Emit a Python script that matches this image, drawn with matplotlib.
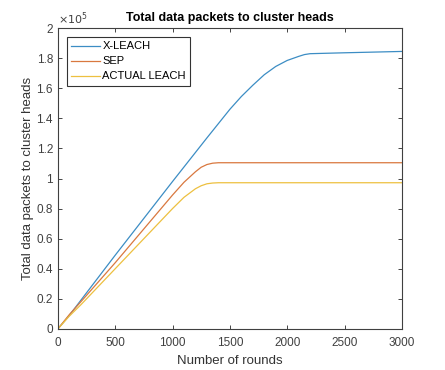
import matplotlib
matplotlib.use("Agg")
import matplotlib.pyplot as plt
import numpy as np

plt.rcParams["font.family"] = ["Liberation Sans", "DejaVu Sans"]

rounds = [0, 100, 200, 500, 1000, 1300, 1500, 1600, 1700, 1800, 1900, 2000, 2100, 2150, 2200, 2500, 3000]
x_leach = [0, 0.09, 0.19, 0.49, 0.98, 1.27, 1.46, 1.545, 1.62, 1.69, 1.745, 1.785, 1.812, 1.824, 1.830, 1.836, 1.845]

rounds_sep = [0, 100, 200, 500, 1000, 1100, 1200, 1250, 1300, 1350, 1400, 3000]
sep = [0, 0.095, 0.18, 0.44, 0.89, 0.975, 1.045, 1.075, 1.093, 1.102, 1.105, 1.105]

rounds_leach = [0, 100, 200, 500, 1000, 1100, 1200, 1250, 1300, 1350, 1400, 3000]
actual_leach = [0, 0.085, 0.16, 0.40, 0.80, 0.875, 0.932, 0.952, 0.965, 0.970, 0.972, 0.972]

scale = 1e5

fig = plt.figure(figsize=(4.45, 3.7), dpi=100)
ax = fig.add_axes([0.130, 0.111, 0.773, 0.813])

ax.plot(rounds, np.array(x_leach) * scale, color="#3C8DC4", lw=0.9, label="X-LEACH")
ax.plot(rounds_sep, np.array(sep) * scale, color="#D9783F", lw=0.9, label="SEP")
ax.plot(rounds_leach, np.array(actual_leach) * scale, color="#EDC040", lw=0.9, label="ACTUAL LEACH")

ax.set_xlim(0, 3000)
ax.set_ylim(0, 2e5)
ax.set_xticks(np.arange(0, 3001, 500))
ax.set_yticks(np.arange(0, 2.01e5, 0.2e5))
ax.set_yticklabels(["0", "0.2", "0.4", "0.6", "0.8", "1", "1.2", "1.4", "1.6", "1.8", "2"])
ax.tick_params(direction="in", top=True, right=True, labelsize=8.5, colors="#262626",
               length=3, width=0.6, labelcolor="#404040")
ax.tick_params(axis="x", pad=6)
for s in ax.spines.values():
    s.set_color("#404040")
    s.set_linewidth(0.8)

ax.text(0.0, 1.005, r"$\times10^5$", transform=ax.transAxes, fontsize=8, color="#404040",
        ha="left", va="bottom")
ax.set_title("Total data packets to cluster heads", fontsize=9, fontweight="bold", pad=5)
ax.set_xlabel("Number of rounds", fontsize=9.5, color="#333333", labelpad=4)
ax.set_ylabel("Total data packets to cluster heads", fontsize=9.5, color="#333333", labelpad=2)

leg = ax.legend(loc="upper left", fontsize=8, frameon=True, fancybox=False,
                edgecolor="black", borderaxespad=0.8, handlelength=2.6, handletextpad=0.2,
                borderpad=0.4, labelspacing=0.45)
leg.get_frame().set_linewidth(0.8)

fig.savefig("out.png", dpi=100)
